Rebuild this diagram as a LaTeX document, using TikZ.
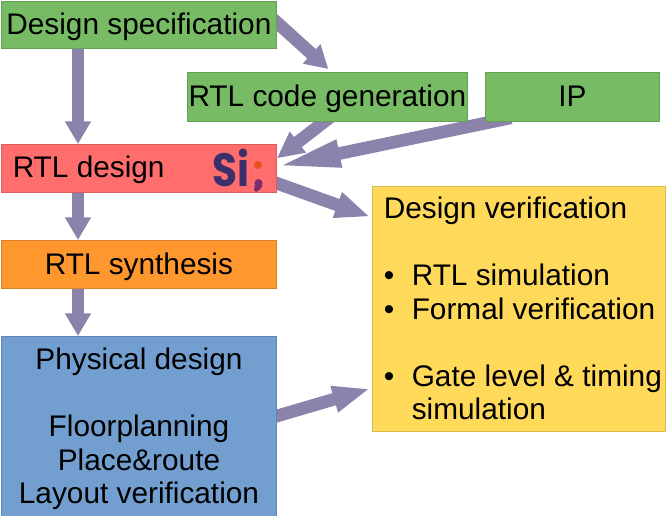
\documentclass[tikz,border=0pt]{standalone}
\usepackage{fontspec}
\setmainfont{Liberation Sans}
\newfontfamily\logofont[FakeStretch=0.87]{Poppins}
\usetikzlibrary{arrows.meta,backgrounds}

\definecolor{boxgreen}{HTML}{77BC65}
\definecolor{boxred}{HTML}{FF6D6D}
\definecolor{boxorange}{HTML}{FF972F}
\definecolor{boxblue}{HTML}{729FCF}
\definecolor{boxyellow}{HTML}{FFD95A}
\definecolor{flowpurple}{HTML}{8C83AD}
\definecolor{logoblue}{HTML}{3B2F6B}
\definecolor{logodot}{HTML}{E8501A}
\definecolor{logotail}{HTML}{7B2D6B}

\tikzset{
    boxtext/.style={inner sep=0pt,font=\fontsize{22.35}{25.1}\selectfont},
    oneline/.style={text height=16.3pt,text depth=1.7pt},
    stage/.style={boxtext,draw=#1!85!black,fill=#1,anchor=north west,align=center,line width=0.6pt},
    flow/.style={draw=flowpurple,line width=9.5pt,
        -{Triangle[length=#1,width=18.5pt]}},
    flow/.default=17pt
}

\begin{document}
\begin{tikzpicture}[x=0.75pt,y=-0.75pt]
        \useasboundingbox (0,0) rectangle (666,516);

        % Boxes on the left
        \node[stage=boxgreen,oneline,minimum width=206.25pt,minimum height=35.25pt] (spec) at (1,1) {Design specification};
        \node[stage=boxred,minimum width=206.25pt,minimum height=36pt] (design) at (1,144) {};
        \node[stage=boxorange,oneline,minimum width=206.25pt,minimum height=36pt] (synth) at (1,240) {RTL synthesis};
        \node[stage=boxblue,minimum width=206.25pt,minimum height=135pt] (phys) at (1,336) {};
        \node[boxtext,anchor=north,align=center] (phystext) at (139,348)
            {Physical design\\[25.1pt]Floorplanning\\Place\&route\\Layout verification};

        % Boxes on the right
        \node[stage=boxgreen,oneline,minimum width=210pt,minimum height=36.75pt] (gen) at (187,72) {RTL code generation};
        \node[stage=boxgreen,oneline,minimum width=130.5pt,minimum height=36.75pt] (ip) at (485,72) {IP};
        \node[stage=boxyellow,minimum width=219.75pt,minimum height=183.75pt] (verif) at (372,186) {};
        \node[boxtext,anchor=north west,align=left] (veriftext) at (383.5,197)
            {Design verification\\[25.1pt]
             \makebox[21pt][l]{•}RTL simulation\\
             \makebox[21pt][l]{•}Formal verification\\[25.1pt]
             \makebox[21pt][l]{•}Gate level \& timing\\
             \hspace*{21pt}simulation};

        % Text and logo in the red box
        \node[boxtext,oneline,anchor=west] (designtext) at (12.5,168) {RTL design};
        \node[font=\logofont\bfseries\fontsize{35}{35}\selectfont,text=logoblue,anchor=center,inner sep=0pt] (logo) at (230.5,168) {Si};
        \fill[logodot] (258,165) circle (3pt);
        \fill[logotail] (258.5,183) circle (3pt);
        \fill[logotail] (255,183) -- (262.5,185) .. controls (261,189) and (259,191) .. (256,192) -- (254,190) -- cycle;

        % Flow arrows
        \coordinate (axis) at (78,0);
        \begin{scope}[on background layer]
        \draw[flow] (spec.south -| axis) -- (design.north -| axis);
        \draw[flow] (design.south -| axis) -- (synth.north -| axis);
        \draw[flow] (synth.south -| axis) -- (phys.north -| axis);
        \draw[flow] ([xshift=-4.5pt,yshift=6pt]spec.east) -- ([xshift=0.75pt,yshift=2.2pt]gen.north);
        \draw[flow=20pt] ([xshift=4pt,yshift=5pt]gen.south) -- ([xshift=0pt,yshift=7.5pt]design.east);
        \draw[flow=50pt] ([xshift=-46pt,yshift=3pt]ip.south) -- ([xshift=-2pt,yshift=1pt]design.east);
        \draw[flow=26pt] ([xshift=-6pt,yshift=-9pt]design.east) -- ([xshift=-1.5pt,yshift=-23pt]verif.north west);
        \draw[flow=28pt] ([xshift=-6pt,yshift=6pt]phys.east) -- ([xshift=-1.5pt,yshift=-152pt]verif.north west);
        \end{scope}

\end{tikzpicture}
\end{document}
